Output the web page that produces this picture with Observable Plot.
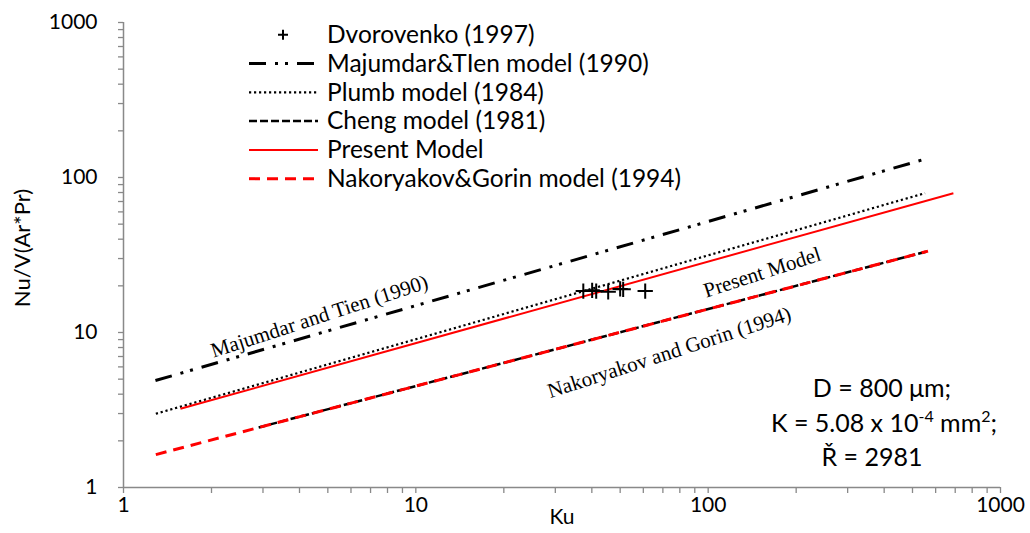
<!DOCTYPE html>
<html><head><meta charset="utf-8">
<script src="https://cdn.jsdelivr.net/npm/d3@7"></script>
<script src="https://cdn.jsdelivr.net/npm/@observablehq/plot@0.6"></script>
<style>body{margin:0;background:#fff} svg{display:block}</style>
</head><body><div id="chart"></div>
<script>
// Axis ticks
const majorTicks = [1, 10, 100, 1000];
const minorTicks = [1, 10, 100].flatMap(d => [2,3,4,5,6,7,8,9].map(k => k * d));

// Dvorovenko (1997) experimental points
const dvorKu = [37.4, 40.1, 41.4, 45.5, 50.0, 51.2, 60.9];
const dvorNu = [18.5, 18.7, 18.5, 18.3, 19.1, 19.0, 18.5];

// Model lines (power laws: straight on log-log) — endpoints
const majumdarKu = [1.286, 556];  const majumdarNu = [4.9, 132];
const plumbKu    = [1.29, 552];   const plumbNu    = [2.99, 79.2];
const chengKu    = [2.9, 565];    const chengNu    = [2.44, 33.5];
const presentKu  = [1.566, 690];  const presentNu  = [3.22, 79.2];
const nakorKu    = [1.29, 565];   const nakorNu    = [1.63, 33.5];

// Annotations
const annotations = [
  {text: "Majumdar and Tien (1990)", ku: 4.68, nu: 12.7},
  {text: "Present Model", ku: 153, nu: 24.4},
  {text: "Nakoryakov and Gorin (1994)", ku: 73.6, nu: 7.43}
];
const legendLabels = ["Dvorovenko (1997)", "Majumdar&TIen model (1990)", "Plumb model (1984)",
  "Cheng model (1981)", "Present Model", "Nakoryakov&Gorin model (1994)"];

const rows = (xs, ys) => xs.map((x, i) => ({x, y: ys[i]}));
const gray = "#898989";
const font = "Lato, 'Open Sans', sans-serif";

const styles = {
  majumdar: {stroke: "black", strokeWidth: 3, strokeDasharray: "17,9,3,7,3,9"},
  plumb:    {stroke: "black", strokeWidth: 2.2, strokeDasharray: "2.2,2.8"},
  cheng:    {stroke: "black", strokeWidth: 2.5, strokeDasharray: "8,3"},
  present:  {stroke: "#ff0000", strokeWidth: 2},
  nakor:    {stroke: "#ff0000", strokeWidth: 3, strokeDasharray: "11,7"}
};

const chart = Plot.plot({
  width: 1030, height: 533,
  marginLeft: 123, marginRight: 30, marginTop: 22, marginBottom: 46,
  style: {fontFamily: font, background: "white", color: "black"},
  x: {type: "log", domain: [1, 1000], label: null},
  y: {type: "log", domain: [1, 1000], label: null},
  marks: [
    Plot.axisX({ticks: [...majorTicks, ...minorTicks], tickSize: 6, tickFormat: () => "", stroke: gray, strokeWidth: 1.3}),
    Plot.axisX({ticks: majorTicks, tickSize: 0, tickPadding: 10, tickFormat: d => String(d), fontSize: 21}),
    Plot.axisY({ticks: [...majorTicks, ...minorTicks], tickSize: 5, tickFormat: () => "", stroke: gray, strokeWidth: 1.3}),
    Plot.axisY({ticks: majorTicks, tickSize: 0, tickPadding: 26, tickFormat: d => String(d), fontSize: 21}),
    Plot.ruleX([1], {stroke: gray, strokeWidth: 1.5}),
    Plot.ruleY([1], {stroke: gray, strokeWidth: 1.5}),
    Plot.line(rows(majumdarKu, majumdarNu), {x: "x", y: "y", ...styles.majumdar, strokeLinecap: "butt"}),
    Plot.line(rows(plumbKu, plumbNu), {x: "x", y: "y", ...styles.plumb, strokeLinecap: "butt"}),
    Plot.line(rows(chengKu, chengNu), {x: "x", y: "y", ...styles.cheng, strokeLinecap: "butt"}),
    Plot.line(rows(presentKu, presentNu), {x: "x", y: "y", ...styles.present, strokeLinecap: "butt"}),
    Plot.line(rows(nakorKu, nakorNu), {x: "x", y: "y", ...styles.nakor, strokeLinecap: "butt"}),
    Plot.dot(rows(dvorKu, dvorNu), {x: "x", y: "y", symbol: "plus", r: 5, stroke: "black", strokeWidth: 2}),
    Plot.text(annotations, {x: "ku", y: "nu", text: "text", rotate: -18, fontFamily: "'Liberation Serif', 'Times New Roman', serif", fontSize: 21, fill: "black"}),
    Plot.text(["Ku"], {frameAnchor: "bottom", textAnchor: "middle", dy: 36, fontSize: 21, fill: "black"}),
    Plot.text(["Nu/V(Ar*Pr)"], {frameAnchor: "left", textAnchor: "middle", lineAnchor: "middle", dx: -101, dy: -7, rotate: -90, fontSize: 22, fill: "black"})
  ]
});
document.getElementById("chart").appendChild(chart);

// Legend inside plot area (top)
const svg = d3.select(chart);
const lg = svg.append("g").attr("font-family", font).attr("font-size", 24.5).attr("text-anchor", "start");
const keys = [null, "majumdar", "plumb", "cheng", "present", "nakor"];
legendLabels.forEach((lab, i) => {
  const base = 43 + 28.8 * i, sy = base - 8.3;
  if (i === 0) {
    lg.append("path").attr("d", `M278,${sy}h10M283,${sy - 5}v10`).attr("stroke", "black").attr("stroke-width", 2);
  } else {
    const s = styles[keys[i]];
    lg.append("line").attr("x1", 249).attr("x2", 318).attr("y1", sy).attr("y2", sy)
      .attr("stroke", s.stroke).attr("stroke-width", s.strokeWidth)
      .attr("stroke-dasharray", s.strokeDasharray || null);
  }
  lg.append("text").attr("x", 327).attr("y", base).attr("fill", "black").text(lab);
});

// Parameters box
const pb = svg.append("g").attr("font-family", font).attr("font-size", 25).attr("text-anchor", "middle").attr("fill", "black");
pb.append("text").attr("x", 882).attr("y", 397).text("D = 800 μm;");
const t2 = pb.append("text").attr("x", 884).attr("y", 432);
t2.append("tspan").text("K = 5.08 x 10");
t2.append("tspan").attr("font-size", 16).attr("dy", -10).text("-4");
t2.append("tspan").attr("dy", 10).text(" mm");
t2.append("tspan").attr("font-size", 16).attr("dy", -10).text("2");
t2.append("tspan").attr("dy", 10).text(";");
pb.append("text").attr("x", 872).attr("y", 466).text("Ř = 2981");
</script></body></html>
